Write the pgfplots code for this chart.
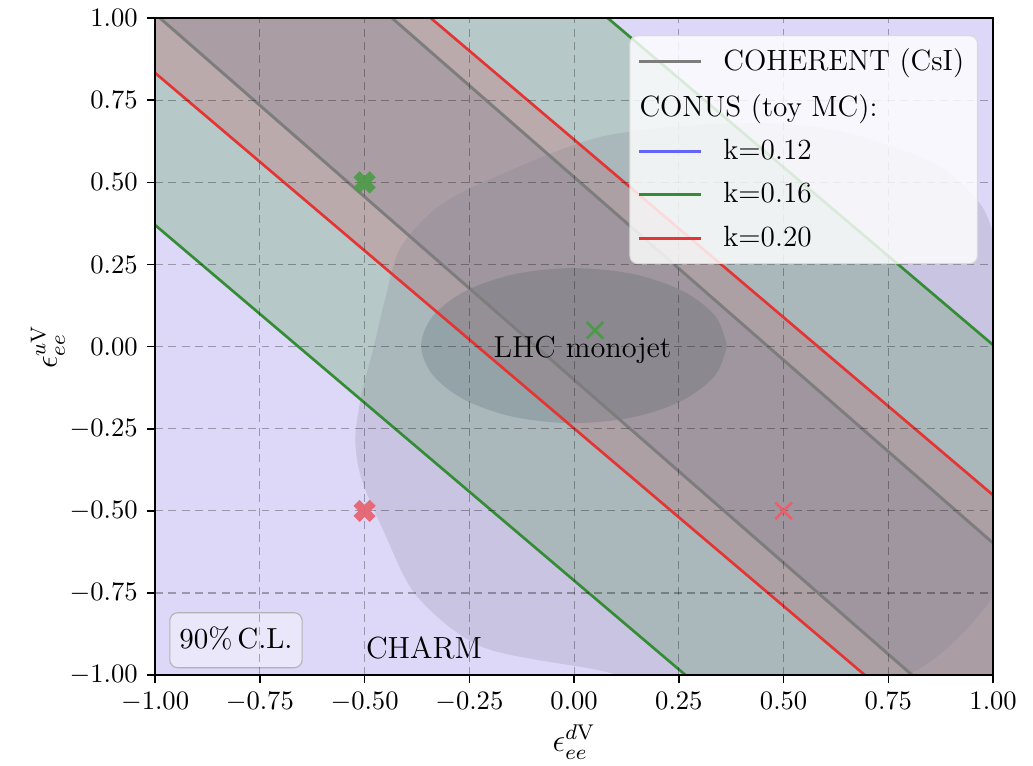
\documentclass[border=0pt]{standalone}
\usepackage{pgfplots}
\pgfplotsset{compat=1.18}
\usetikzlibrary{calc}

\definecolor{bglav}{RGB}{221,215,248}
\definecolor{bandgreen}{RGB}{183,200,200}
\definecolor{bandred}{RGB}{186,170,172}
\definecolor{bandgray}{RGB}{170,158,164}
\definecolor{ellbig}{RGB}{120,120,140}
\definecolor{ellsmall}{RGB}{60,80,85}
\definecolor{lred}{RGB}{228,52,52}
\definecolor{lgreen}{RGB}{52,140,52}
\definecolor{lgray}{RGB}{125,125,125}
\definecolor{lblue}{RGB}{100,100,250}
\definecolor{mkgreen}{RGB}{75,155,70}
\definecolor{mkred}{RGB}{232,96,108}

\begin{document}
\begin{tikzpicture}
\begin{axis}[
  name=ax,
  width=315pt, height=247pt, scale only axis,
  xmin=-1, xmax=1, ymin=-1, ymax=1,
  xtick={-1,-0.75,-0.5,-0.25,0,0.25,0.5,0.75,1},
  ytick={-1,-0.75,-0.5,-0.25,0,0.25,0.5,0.75,1},
  xticklabel style={/pgf/number format/.cd, fixed, fixed zerofill, precision=2},
  yticklabel style={/pgf/number format/.cd, fixed, fixed zerofill, precision=2},
  tick pos=left, tick align=outside, major tick length=3pt,
  tick style={line width=0.6pt, black},
  grid=major,
  grid style={dash pattern=on 3pt off 2pt, line width=0.4pt, black, opacity=0.3},
  axis on top,
  axis line style={line width=0.7pt},
  xlabel={$\epsilon_{ee}^{d\mathrm{V}}$},
  ylabel={$\epsilon_{ee}^{u\mathrm{V}}$},
  label style={font=\large},
  xlabel style={yshift=2pt},
  ylabel style={yshift=-5pt},
  legend cell align=left,
  legend image code/.code={\draw[#1] (0pt,0pt) -- (23pt,0pt);},
  legend style={at={(0.982,0.974)}, anchor=north east,
    fill=white, fill opacity=0.82, draw opacity=1, text opacity=1,
    draw=black!15, rounded corners=3pt,
    font=\fontsize{11}{13}\selectfont,
    row sep=3.2pt, inner xsep=3pt, inner ysep=3pt,
    nodes={inner xsep=2pt}},
]
% k=0.12 band covers the whole plane
\addplot[forget plot, draw=none, fill=bglav] coordinates {(-1.5,-1.5) (1.5,-1.5) (1.5,1.5) (-1.5,1.5)} -- cycle;
% k=0.16 band
\addplot[forget plot, draw=none, fill=bandgreen] coordinates {(-1.5,0.911) (1.5,-2.335) (1.5,-0.536) (-1.5,2.71)} -- cycle;
% k=0.20 band
\addplot[forget plot, draw=none, fill=bandred] coordinates {(-1.5,1.374) (1.5,-1.872) (1.5,-0.993) (-1.5,2.253)} -- cycle;
% COHERENT band
\addplot[forget plot, draw=none, fill=bandgray] coordinates {(-1.5,1.570) (1.5,-1.772) (1.5,-1.155) (-1.5,2.187)} -- cycle;

% CHARM region
\addplot[forget plot, draw=none, fill=ellbig, fill opacity=0.2, smooth, tension=0.5] coordinates {
  (0.5,-1.07) (0.2,-1.03) (0.06,-0.985) (-0.217,-0.915) (-0.375,-0.76)
  (-0.455,-0.56) (-0.508,-0.40) (-0.522,-0.28) (-0.508,-0.15) (-0.478,0.0)
  (-0.450,0.15) (-0.415,0.30) (-0.33,0.42) (-0.217,0.50) (0.062,0.638)
  (0.38,0.68) (0.62,0.66) (0.857,0.56) (0.962,0.446) (1.0,0.345)
  (1.05,0.10) (1.08,-0.20) (1.06,-0.50) (1.0,-0.76) (0.81,-0.99) (0.5,-1.07)} -- cycle;
% LHC monojet region
\addplot[forget plot, draw=none, fill=ellsmall, fill opacity=0.2, smooth, tension=0.55] coordinates {
  (0.365,0.003) (0.337,0.093) (0.258,0.170) (0.140,0.221) (0,0.239)
  (-0.140,0.221) (-0.258,0.170) (-0.337,0.093) (-0.365,0.003)
  (-0.337,-0.087) (-0.258,-0.164) (-0.140,-0.215) (0,-0.233)
  (0.140,-0.215) (0.258,-0.164) (0.337,-0.087) (0.365,0.003)} -- cycle;

% band edges
\addplot[forget plot, lgreen, line width=1pt] coordinates {(-1.5,0.911) (1.5,-2.335)};
\addplot[forget plot, lgreen, line width=1pt] coordinates {(-1.5,2.71) (1.5,-0.536)};
\addplot[forget plot, lred, line width=1pt] coordinates {(-1.5,1.374) (1.5,-1.872)};
\addplot[forget plot, lred, line width=1pt] coordinates {(-1.5,2.253) (1.5,-0.993)};
\addplot[forget plot, lgray, line width=1.1pt] coordinates {(-1.5,1.570) (1.5,-1.772)};
\addplot[forget plot, lgray, line width=1.1pt] coordinates {(-1.5,2.187) (1.5,-1.155)};

% best fit points
\addplot[forget plot, only marks, mark=x, mark size=4.3pt, line width=3.2pt, mkgreen, opacity=0.9] coordinates {(-0.5,0.5)};
\addplot[forget plot, only marks, mark=x, mark size=4.3pt, line width=3.2pt, mkred, opacity=0.9] coordinates {(-0.5,-0.5)};
\addplot[forget plot, only marks, mark=x, mark size=4.4pt, line width=1pt, mkgreen] coordinates {(0.05,0.05)};
\addplot[forget plot, only marks, mark=x, mark size=4.4pt, line width=1pt, mkred] coordinates {(0.5,-0.5)};

\node[anchor=base, font=\fontsize{11.4}{13}\selectfont] at (axis cs:0.02,-0.032) {LHC monojet};
\node[anchor=base, font=\fontsize{11.5}{13}\selectfont] at (axis cs:-0.358,-0.948) {CHARM};
\node[anchor=base, font=\fontsize{10.9}{13}\selectfont, draw=black!30, fill=white, fill opacity=0.4, text opacity=1,
  rounded corners=3pt, inner xsep=3.6pt, text depth=4pt, text height=10pt] at (axis cs:-0.807,-0.918) {90\%\,C.L.};

\addlegendimage{lgray, line width=1.1pt}
\addlegendentry{\hspace*{6pt}COHERENT (CsI)}
\addlegendimage{empty legend}
\addlegendentry{\hspace*{-25.5pt}CONUS (toy MC):}
\addlegendimage{lblue, line width=1.1pt}
\addlegendentry{\hspace*{6pt}k=0.12}
\addlegendimage{lgreen, line width=1.1pt}
\addlegendentry{\hspace*{6pt}k=0.16}
\addlegendimage{lred, line width=1.1pt}
\addlegendentry{\hspace*{6pt}k=0.20}
\end{axis}
\pgfresetboundingbox
\path[use as bounding box] ($(ax.south west)+(-58.3pt,-33.8pt)$) rectangle ($(ax.north east)+(15pt,6.8pt)$);
\end{tikzpicture}
\end{document}
